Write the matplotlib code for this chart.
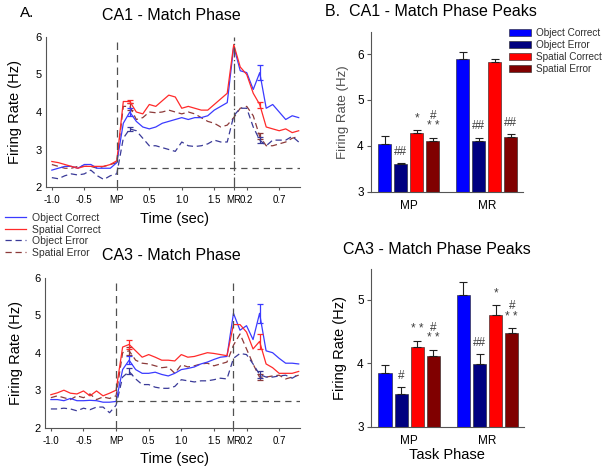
import numpy as np
import matplotlib.pyplot as plt
from matplotlib.lines import Line2D
from matplotlib.patches import Patch

plt.rcParams['font.family'] = ['Liberation Sans', 'DejaVu Sans']

# %%
# time bins (sec), MP at 0, MR at 1.8
t = np.round(np.linspace(-1.0, 2.8, 39), 1)
tick_pos = [-1.0, -0.5, 0.0, 0.5, 1.0, 1.5, 1.8, 2.0, 2.5]
tick_lab = ['-1.0', '-0.5', 'MP', '0.5', '1.0', '1.5', 'MR', '0.2', '0.7']

# CA1 match phase firing rates
ca1_oc = [2.45, 2.50, 2.55, 2.55, 2.50, 2.60, 2.60, 2.50, 2.50, 2.50, 2.65,
          3.70, 4.00, 3.75, 3.60, 3.55, 3.60, 3.70, 3.75, 3.80, 3.85, 3.80,
          3.85, 3.85, 3.90, 4.05, 4.15, 4.25, 5.75, 5.10, 5.05, 4.60, 5.05,
          4.10, 4.20, 4.00, 3.80, 3.90, 3.85]
ca1_sc = [2.68, 2.65, 2.60, 2.55, 2.50, 2.55, 2.55, 2.55, 2.55, 2.60, 2.70,
          4.28, 4.28, 4.00, 3.95, 4.20, 4.15, 4.30, 4.45, 4.40, 4.10, 4.15,
          4.10, 4.05, 4.05, 4.20, 4.35, 4.50, 5.80, 5.20, 5.00, 4.50, 4.20,
          3.60, 3.55, 3.50, 3.55, 3.45, 3.50]
ca1_oe = [2.25, 2.22, 2.30, 2.35, 2.32, 2.35, 2.45, 2.30, 2.20, 2.30, 2.35,
          3.30, 3.55, 3.50, 3.30, 3.10, 3.10, 3.05, 3.00, 2.95, 3.20, 3.10,
          3.08, 3.10, 3.15, 3.25, 3.20, 3.20, 3.90, 4.10, 4.10, 3.60, 3.25,
          3.10, 3.25, 3.25, 3.25, 3.35, 3.20]
ca1_se = [2.60, 2.55, 2.50, 2.50, 2.55, 2.55, 2.55, 2.50, 2.55, 2.60, 2.65,
          4.15, 4.15, 3.80, 3.85, 4.00, 3.98, 4.00, 4.05, 4.00, 3.95, 4.00,
          3.95, 3.85, 3.75, 3.70, 3.60, 3.65, 3.85, 4.10, 4.15, 3.90, 3.35,
          3.10, 3.10, 3.15, 3.20, 3.30, 3.35]

# CA3 match phase firing rates
ca3_oc = [2.75, 2.75, 2.72, 2.78, 2.72, 2.72, 2.73, 2.72, 2.68, 2.68, 2.70,
          3.55, 3.80, 3.55, 3.45, 3.45, 3.48, 3.42, 3.38, 3.45, 3.55, 3.58,
          3.62, 3.70, 3.75, 3.82, 3.88, 3.90, 5.05, 4.60, 4.72, 4.35, 5.05,
          4.05, 4.00, 3.85, 3.72, 3.72, 3.70]
ca3_sc = [2.88, 2.93, 3.00, 2.92, 2.90, 2.98, 2.85, 2.98, 2.85, 2.92, 3.00,
          4.15, 4.22, 4.05, 3.88, 3.95, 3.88, 3.80, 3.80, 3.78, 3.95, 3.88,
          3.90, 3.95, 4.00, 3.98, 3.95, 3.92, 4.75, 4.75, 4.55, 4.10, 4.30,
          3.70, 3.60, 3.45, 3.45, 3.45, 3.50]
ca3_oe = [2.50, 2.50, 2.52, 2.50, 2.45, 2.52, 2.48, 2.55, 2.55, 2.40, 2.60,
          3.35, 3.50, 3.30, 3.15, 3.15, 3.08, 3.05, 3.05, 3.10, 3.28, 3.25,
          3.22, 3.25, 3.25, 3.28, 3.32, 3.30, 3.85, 3.98, 3.95, 3.70, 3.42,
          3.35, 3.35, 3.38, 3.40, 3.32, 3.42]
ca3_se = [2.80, 2.85, 2.80, 2.75, 2.85, 2.80, 2.90, 2.75, 2.82, 2.78, 2.85,
          4.00, 4.05, 3.80, 3.72, 3.70, 3.65, 3.60, 3.62, 3.45, 3.68, 3.62,
          3.65, 3.70, 3.72, 3.65, 3.70, 3.75, 4.20, 4.50, 4.10, 3.70, 3.35,
          3.35, 3.38, 3.40, 3.30, 3.35, 3.40]

# error bars shown at peak bins
err_t = [0.2, 2.2]
ca1_oc_e, ca1_sc_e, ca1_oe_e, ca1_se_e = [0.10, 0.20], [0.05, 0.08], [0.05, 0.08], [0.10, 0.08]
ca3_oc_e, ca3_sc_e, ca3_oe_e, ca3_se_e = [0.10, 0.25], [0.12, 0.20], [0.08, 0.10], [0.10, 0.08]
ca1_base = 2.5
ca3_base = 2.7

# peaks (bar charts)
phases = ['MP', 'MR']
conds = ['Object Correct', 'Object Error', 'Spatial Correct', 'Spatial Error']
ca1_peak = [[4.05, 5.89], [3.60, 4.10], [4.29, 5.82], [4.10, 4.20]]
ca1_sem = [[0.17, 0.16], [0.02, 0.08], [0.05, 0.08], [0.07, 0.05]]
ca1_sig = [['', ''], ['##', '##'], ['*', ''], ['#\n* *', '##']]
ca3_peak = [[3.84, 5.07], [3.51, 3.98], [4.26, 4.76], [4.11, 4.48]]
ca3_sem = [[0.13, 0.20], [0.11, 0.16], [0.09, 0.15], [0.10, 0.07]]
ca3_sig = [['', ''], ['#', '##'], ['* *', '*'], ['#\n* *', '#\n* *']]

bar_cols = ['#0000ff', '#000080', '#ff0000', '#800000']
line_style = {
    'Object Correct': dict(color='#3b3bff', ls='-'),
    'Spatial Correct': dict(color='#ff2a2a', ls='-'),
    'Object Error': dict(color='#3a3a98', ls=(0, (5, 3))),
    'Spatial Error': dict(color='#8c3a3a', ls=(0, (5, 3))),
}

# %%
fig = plt.figure(figsize=(6.04, 4.70), dpi=100)
W, H = 604, 470


def line_panel(ax, series, errs, base, mr_ls):
    for name, y in series.items():
        st = line_style[name]
        ax.plot(t, y, color=st['color'], ls=st['ls'], lw=0.9)
        ye = [y[list(t).index(v)] for v in err_t]
        ax.errorbar(err_t, ye, yerr=errs[name], fmt='none', ecolor=st['color'],
                    elinewidth=0.9, capsize=2, capthick=0.9)
    ax.axvline(0, color='#505050', ls=(0, (6, 4)), lw=0.9)
    ax.axvline(1.8, color='#505050', ls=mr_ls, lw=0.9)
    ax.plot([0, 2.82], [base, base], color='#505050', ls=(0, (5, 4)), lw=0.9)
    ax.set_xlim(-1.09, 2.82)
    ax.set_ylim(2, 6)
    ax.set_yticks([2, 3, 4, 5, 6])
    ax.set_xticks(tick_pos)
    ax.set_xticklabels(tick_lab)
    for s in ['top', 'right']:
        ax.spines[s].set_visible(False)
    for s in ['left', 'bottom']:
        ax.spines[s].set_color('#555555')
        ax.spines[s].set_linewidth(0.8)
    ax.tick_params(axis='x', length=2, pad=4, labelsize=7, color='#555555')
    ax.tick_params(axis='y', length=0, pad=3, labelsize=8)
    ax.set_ylabel('Firing Rate (Hz)', fontsize=10.5)
    ax.set_xlabel('Time (sec)', fontsize=10.5)


ax1 = fig.add_axes([46 / W, 1 - 187 / H, 254 / W, 150 / H])
line_panel(ax1, {'Spatial Error': ca1_se, 'Object Error': ca1_oe,
                 'Object Correct': ca1_oc, 'Spatial Correct': ca1_sc},
           {'Object Correct': ca1_oc_e, 'Spatial Correct': ca1_sc_e,
            'Object Error': ca1_oe_e, 'Spatial Error': ca1_se_e},
           ca1_base, (0, (8, 2, 1, 2)))
ax1.yaxis.set_label_coords(-0.095, 0.5)
ax1.xaxis.set_label_coords(0.506, -0.165)

ax2 = fig.add_axes([45 / W, 1 - 427.7 / H, 255 / W, 150 / H])
line_panel(ax2, {'Spatial Error': ca3_se, 'Object Error': ca3_oe,
                 'Object Correct': ca3_oc, 'Spatial Correct': ca3_sc},
           {'Object Correct': ca3_oc_e, 'Spatial Correct': ca3_sc_e,
            'Object Error': ca3_oe_e, 'Spatial Error': ca3_se_e},
           ca3_base, (0, (6, 4)))
ax2.yaxis.set_label_coords(-0.088, 0.5)
ax2.xaxis.set_label_coords(0.506, -0.16)


def bar_panel(ax, peak, sem, sig, ytop):
    x = np.arange(len(phases))
    for i, name in enumerate(conds):
        xi = x + (i - 1.5) * 0.205
        ax.bar(xi, peak[i], width=0.167, bottom=0, color=bar_cols[i],
               edgecolor='#202020', lw=0.4)
        ax.errorbar(xi, peak[i], yerr=[[0, 0], sem[i]], fmt='none',
                    ecolor='#202020', elinewidth=0.8, capsize=3, capthick=0.8)
        for j in range(len(phases)):
            if sig[i][j]:
                ax.annotate(sig[i][j], (xi[j], peak[i][j] + sem[i][j]),
                            xytext=(0, 4), textcoords='offset points',
                            ha='center', va='bottom', fontsize=8.5,
                            color='#404040', linespacing=0.85)
    ax.set_xlim(-0.49, 1.46)
    ax.set_ylim(3, ytop)
    ax.set_xticks(x)
    ax.set_xticklabels(phases)
    for s in ['top', 'right']:
        ax.spines[s].set_visible(False)
    for s in ['left', 'bottom']:
        ax.spines[s].set_color('#555555')
        ax.spines[s].set_linewidth(0.8)
    ax.tick_params(axis='x', length=0, pad=6, labelsize=8.5)
    ax.tick_params(axis='y', length=3, pad=2, labelsize=8.5, color='#555555')


ax3 = fig.add_axes([370.7 / W, 1 - 191.7 / H, 152 / W, 159.7 / H])
bar_panel(ax3, ca1_peak, ca1_sem, ca1_sig, 6.48)
ax3.set_yticks([3, 4, 5, 6])
ax3.set_ylabel('Firing Rate (Hz)', fontsize=9.5, color='#505050')
ax3.yaxis.set_label_coords(-0.143, 0.5)

ax4 = fig.add_axes([370.7 / W, 1 - 426.7 / H, 153 / W, 157.7 / H])
bar_panel(ax4, ca3_peak, ca3_sem, ca3_sig, 5.48)
ax4.set_yticks([3, 4, 5])
ax4.set_ylabel('Firing Rate (Hz)', fontsize=10.5)
ax4.yaxis.set_label_coords(-0.157, 0.5)
ax4.set_xlabel('Task Phase', fontsize=10.5)
ax4.xaxis.set_label_coords(0.5, -0.135)

# %%
# legends
line_handles = [Line2D([], [], color=line_style[n]['color'], ls=line_style[n]['ls'], lw=0.9)
                for n in ['Object Correct', 'Spatial Correct', 'Object Error', 'Spatial Error']]
fig.legend(line_handles, ['Object Correct', 'Spatial Correct', 'Object Error', 'Spatial Error'],
           loc='upper left', bbox_to_anchor=(5 / W, 1 - 213 / H), frameon=False,
           fontsize=7.5, handlelength=2.0, handletextpad=0.6, labelspacing=0.15,
           borderpad=0, borderaxespad=0, labelcolor='#303030')

bar_handles = [Patch(facecolor=c, edgecolor='#202020', lw=0.4) for c in bar_cols]
fig.legend(bar_handles, conds, loc='upper left', bbox_to_anchor=(509 / W, 1 - 28 / H),
           frameon=False, fontsize=7.2, handlelength=2.2, handleheight=0.75,
           handletextpad=0.45, labelspacing=0.2, borderpad=0, borderaxespad=0,
           labelcolor='#303030')

# titles
fig.text(20 / W, 1 - 13 / H, 'A.', fontsize=11, va='center')
fig.text(171 / W, 1 - 15 / H, 'CA1 - Match Phase', fontsize=11.5, ha='center', va='center')
fig.text(171 / W, 1 - 256 / H, 'CA3 - Match Phase', fontsize=11.5, ha='center', va='center')
fig.text(325 / W, 1 - 12 / H, 'B.  CA1 - Match Phase Peaks', fontsize=11.5, va='center')
fig.text(437 / W, 1 - 250 / H, 'CA3 - Match Phase Peaks', fontsize=11.5, ha='center', va='center')

fig.savefig('out.png', dpi=100)
